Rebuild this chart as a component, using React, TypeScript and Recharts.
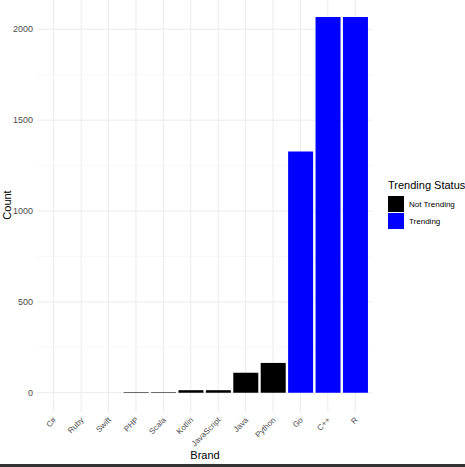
import React from 'react';
import { BarChart, Bar, XAxis, YAxis, CartesianGrid, Cell } from 'recharts';

const brands = ['C#', 'Ruby', 'Swift', 'PHP', 'Scala', 'Kotlin', 'JavaScript', 'Java', 'Python', 'Go', 'C++', 'R'];
const counts = [0, 0, 0, 3, 3, 14, 14, 110, 164, 1328, 2068, 2068];
const statuses = [
  'Not Trending', 'Not Trending', 'Not Trending', 'Not Trending', 'Not Trending', 'Not Trending',
  'Not Trending', 'Not Trending', 'Not Trending', 'Trending', 'Trending', 'Trending',
];
const legendLabels = ['Not Trending', 'Trending'];
const statusColors: Record<string, string> = { 'Not Trending': '#000000', Trending: '#0000ff' };
const yTicks = [0, 500, 1000, 1500, 2000];
const yMinor = [250, 750, 1250, 1750];

const data = brands.map((b, i) => ({ brand: b, count: counts[i], status: statuses[i] }));

const FONT = '"Liberation Sans", Arial, Helvetica, sans-serif';

const YTick = (props: any) => {
  const { y, payload } = props;
  return (
    <text x={33} y={y} dy={3.2} textAnchor="end" fontSize={9} fill="#4d4d4d" fontFamily={FONT}>
      {payload.value}
    </text>
  );
};

const XTick = (props: any) => {
  const { x, payload } = props;
  const ax = x + 3;
  const ay = 420.5;
  return (
    <text x={ax} y={ay} textAnchor="end" fontSize={8} fill="#4d4d4d" fontFamily={FONT}
      transform={`rotate(-45 ${ax} ${ay})`}>
      {payload.value}
    </text>
  );
};

export default function App() {
  return (
    <div style={{ position: 'absolute', left: 0, top: 0, width: 465, height: 467, background: '#fff', fontFamily: FONT }}>
      <BarChart width={465} height={467} data={data} margin={{ top: 0, right: 93, bottom: 0, left: 0 }}
        barCategoryGap="5%">
        <CartesianGrid stroke="#f3f3f3" strokeWidth={0.6} vertical={false} horizontalValues={yMinor} syncWithTicks />
        <CartesianGrid stroke="#ebebeb" strokeWidth={1} syncWithTicks />
        <XAxis dataKey="brand" type="category" height={55} axisLine={false} tickLine={false}
          tick={<XTick />} interval={0} padding={{ left: 3, right: 3 }} />
        <YAxis type="number" width={37} domain={[-106, 2161]} ticks={yTicks} axisLine={false}
          tickLine={false} tick={<YTick />} allowDataOverflow />
        <Bar dataKey="count" isAnimationActive={false}>
          {data.map((d, i) => (
            <Cell key={i} fill={statusColors[d.status]} />
          ))}
        </Bar>
      </BarChart>
      <div style={{ position: 'absolute', left: 0, top: 205, width: 14, height: 0 }}>
        <div style={{ position: 'absolute', left: 7, top: 0, transform: 'translate(-50%, -50%) rotate(-90deg)', fontSize: 11, color: '#000', whiteSpace: 'nowrap' }}>Count</div>
      </div>
      <div style={{ position: 'absolute', left: 205, top: 455, transform: 'translate(-50%, -50%)', fontSize: 11, color: '#000', whiteSpace: 'nowrap' }}>Brand</div>
      <div style={{ position: 'absolute', left: 388, top: 179, fontSize: 11, color: '#000', whiteSpace: 'nowrap', lineHeight: '13px' }}>Trending Status</div>
      {legendLabels.map((l, i) => (
        <div key={l} style={{ position: 'absolute', left: 388, top: 196 + i * 17, height: 16, display: 'flex', alignItems: 'center' }}>
          <div style={{ width: 16, height: 16, background: statusColors[l] }} />
          <span style={{ marginLeft: 5, fontSize: 8, color: '#000', whiteSpace: 'nowrap' }}>{l}</span>
        </div>
      ))}
      <div style={{ position: 'absolute', left: 0, top: 464, width: 465, height: 3, background: '#333' }} />
    </div>
  );
}
